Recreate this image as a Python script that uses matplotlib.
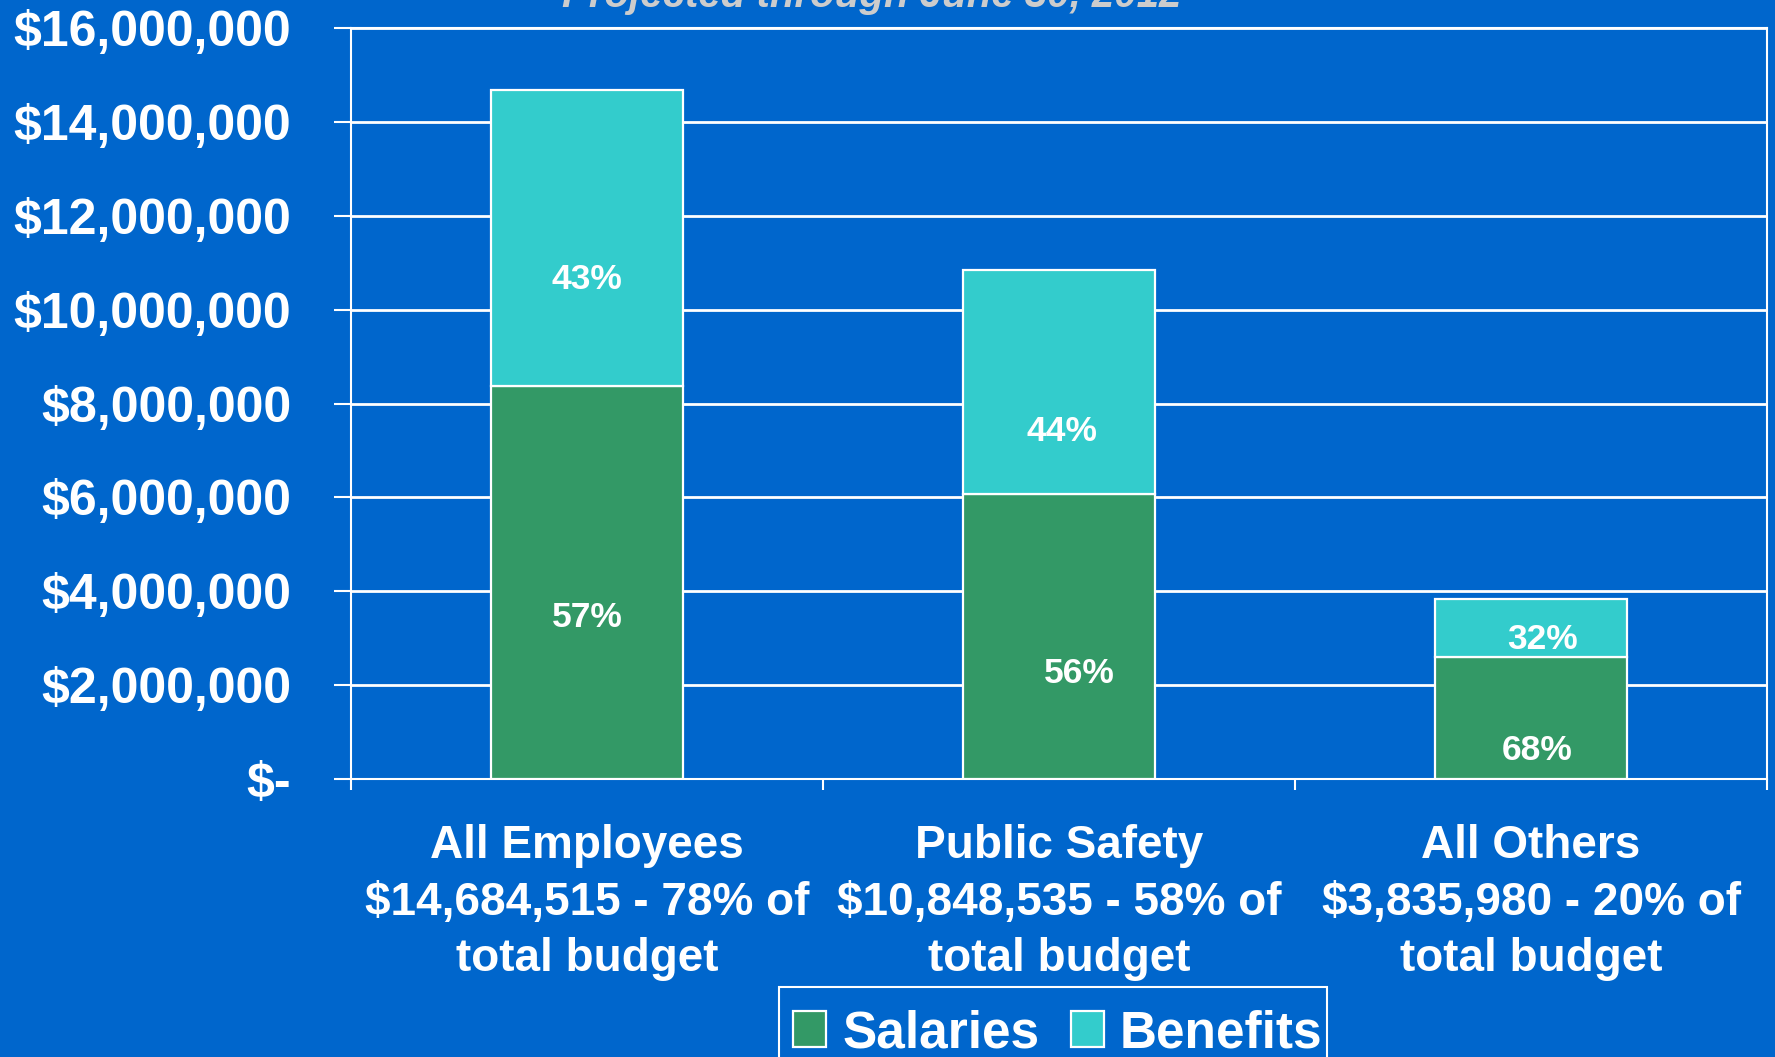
import matplotlib
matplotlib.use('Agg')
import matplotlib.pyplot as plt
from matplotlib.patches import Rectangle
from matplotlib.ticker import FuncFormatter

# budget figures, projected through June 30, 2012
categories = ['All Employees', 'Public Safety', 'All Others']
totals = [14684515, 10848535, 3835980]
budget_share = [78, 58, 20]
salary_pct = [57, 56, 68]
benefit_pct = [43, 44, 32]

salaries = [t * p / 100.0 for t, p in zip(totals, salary_pct)]
benefits = [t - s for t, s in zip(totals, salaries)]

# where the percent labels sit inside each segment (fraction of segment height)
salary_lab_frac = [0.41, 0.37, 0.23]
benefit_lab_frac = [0.36, 0.28, 0.30]
salary_lab_dx = [0.0, 0.043, 0.012]
benefit_lab_dx = [0.0, 0.007, 0.024]

BG = '#0066CC'
GREEN = '#339966'
TEAL = '#33CCCC'
FONT = 'Liberation Sans'

plt.rcParams['font.family'] = [FONT, 'DejaVu Sans']
plt.rcParams['font.weight'] = 'bold'

fig = plt.figure(figsize=(17.75, 10.57), dpi=100, facecolor=BG)
ax = fig.add_axes([351/1775, 1 - 779/1057, (1767 - 351)/1775, (779 - 28)/1057])
ax.set_facecolor(BG)

x = list(range(len(categories)))
width = 0.405
ax.bar(x, salaries, width, color=GREEN, edgecolor='white', linewidth=1.6, label='Salaries', zorder=3)
ax.bar(x, benefits, width, bottom=salaries, color=TEAL, edgecolor='white', linewidth=1.6,
       label='Benefits', zorder=3)

for i in x:
    ys = salaries[i] * salary_lab_frac[i]
    yb = salaries[i] + benefits[i] * benefit_lab_frac[i]
    ax.text(i + salary_lab_dx[i], ys, f'{salary_pct[i]}%', color='white', fontsize=25.5,
            fontweight='bold', ha='center', va='center', zorder=4)
    ax.text(i + benefit_lab_dx[i], yb, f'{benefit_pct[i]}%', color='white', fontsize=25.5,
            fontweight='bold', ha='center', va='center', zorder=4)

ax.set_ylim(0, 16000000)
ax.set_xlim(-0.5, 2.5)
ax.set_yticks(range(0, 16000001, 2000000))
ax.yaxis.set_major_formatter(FuncFormatter(lambda v, p: '$-' if v == 0 else f'${v:,.0f}'))
ax.yaxis.grid(True, color='white', linewidth=2.0, zorder=0)
ax.set_axisbelow(True)
ax.tick_params(axis='y', colors='white', length=12, width=1.5, pad=31, labelsize=36)
for lab in ax.get_yticklabels():
    lab.set_fontweight('bold')

# tick marks between categories, labels centred under the bars
ax.set_xticks([-0.5, 0.5, 1.5, 2.5])
ax.set_xticklabels([])
ax.tick_params(axis='x', which='major', colors='white', length=8, width=1.5)
ax.set_xticks(x, minor=True)
cat_labels = [f'{c}\n${t:,} - {b}% of\ntotal budget' for c, t, b in zip(categories, totals, budget_share)]
ax.set_xticklabels(cat_labels, minor=True, fontsize=33, fontweight='bold', color='white',
                   linespacing=1.37)
ax.tick_params(axis='x', which='minor', length=0, pad=32.5)

for s in ax.spines.values():
    s.set_color('white')
    s.set_linewidth(1.5)

fig.text(872/1775, 1 - 7/1057, 'Projected through June 30, 2012', color='#CCCCCC', fontsize=29,
         fontweight='bold', fontstyle='italic', ha='center', va='baseline')

# legend entries without their own frame; the box runs off the bottom edge
leg = fig.legend(loc='upper center', bbox_to_anchor=(1058/1775, 1 - 1009/1057), ncol=2,
                 frameon=False, prop={'family': FONT, 'weight': 'bold', 'size': 37},
                 handlelength=0.64, handleheight=0.72, handletextpad=0.32,
                 columnspacing=0.6, borderpad=0, borderaxespad=0)
for t in leg.get_texts():
    t.set_color('white')
fig.patches.append(Rectangle((779/1775, -0.1), (1327 - 779)/1775, 0.1 + 1 - 987/1057,
                             transform=fig.transFigure, fill=False, edgecolor='white',
                             linewidth=1.5))

fig.savefig('out.png', dpi=100, facecolor=BG)
